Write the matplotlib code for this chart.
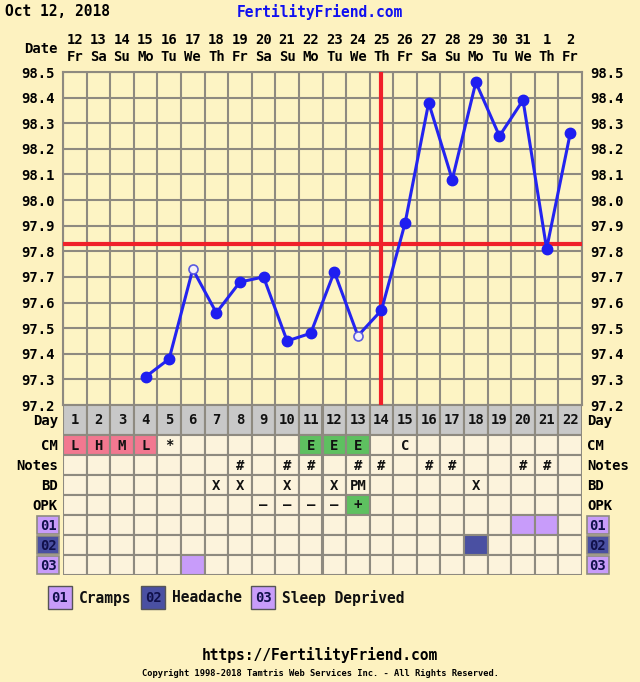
import matplotlib
matplotlib.use('Agg')
import matplotlib.pyplot as plt
from matplotlib.patches import Rectangle
import numpy as np

# --- chart data ---
cycle_days = list(range(1, 23))
dates = [12, 13, 14, 15, 16, 17, 18, 19, 20, 21, 22, 23, 24, 25, 26, 27, 28, 29, 30, 31, 1, 2]
weekdays = ['Fr', 'Sa', 'Su', 'Mo', 'Tu', 'We', 'Th', 'Fr', 'Sa', 'Su', 'Mo',
            'Tu', 'We', 'Th', 'Fr', 'Sa', 'Su', 'Mo', 'Tu', 'We', 'Th', 'Fr']
temps = [np.nan, np.nan, np.nan, 97.31, 97.38, 97.73, 97.56, 97.68, 97.70, 97.45, 97.48,
         97.72, 97.47, 97.57, 97.91, 98.38, 98.08, 98.46, 98.25, 98.39, 97.81, 98.26]
open_days = [6, 13]
coverline = 97.83
ovulation_day = 14
temp_ticks = [97.2, 97.3, 97.4, 97.5, 97.6, 97.7, 97.8, 97.9, 98.0, 98.1, 98.2, 98.3, 98.4, 98.5]

cm = ['L', 'H', 'M', 'L', '*', '', '', '', '', '', 'E', 'E', 'E', '', 'C', '', '', '', '', '', '', '']
notes = ['', '', '', '', '', '', '', '#', '', '#', '#', '', '#', '#', '', '#', '#', '', '', '#', '#', '']
bd = ['', '', '', '', '', '', 'X', 'X', '', 'X', '', 'X', 'PM', '', '', '', '', 'X', '', '', '', '']
opk = ['', '', '', '', '', '', '', '', '–', '–', '–', '–', '+', '', '', '', '', '', '', '', '', '']
symptom_days = {'01': [20, 21], '02': [18], '03': [6]}
symptom_names = {'01': 'Cramps', '02': 'Headache', '03': 'Sleep Deprived'}

# --- styles ---
BG = '#FDF2C0'
PLOT_BG = '#FDF4C4'
CELL_BG = '#FCF3DC'
GRID = '#8E8A80'
PINK = '#F27890'
GREEN = '#5EC060'
SYM_COL = {'01': '#C89CFA', '02': '#4A50A2', '03': '#C89CFA'}
FONT = 'DejaVu Sans Mono'
FS = 10

plt.rcParams['font.family'] = FONT
plt.rcParams['font.weight'] = 'bold'

W, H = 640, 682
fig = plt.figure(figsize=(W / 100, H / 100), dpi=100, facecolor=BG)

def fx(px):
    return px / W

def fy(py):
    return 1 - py / H

# temperature chart
x0, x1 = 63, 582
ax = fig.add_axes([fx(x0), fy(405), fx(x1 - x0), fy(72) - fy(405)])
ax.set_facecolor(PLOT_BG)
ax.set_xlim(0.5, 22.5)
ax.set_ylim(97.2, 98.5)
for x in np.arange(0.5, 23, 1):
    ax.axvline(x, color=GRID, lw=1.5, zorder=1)
for t in temp_ticks:
    ax.axhline(t, color=GRID, lw=1.5, zorder=1)
for s in ax.spines.values():
    s.set_color(GRID)
    s.set_linewidth(1.5)
ax.set_xticks([])
ax.set_yticks(temp_ticks)
ax.set_yticklabels([f'{t:.1f}' for t in temp_ticks], fontsize=FS, fontweight='bold')
ax.tick_params(axis='y', length=0, pad=6, labelright=True)

ax.axhline(coverline, color='#F0202A', lw=3, zorder=3)
ax.axvline(ovulation_day, color='#F0202A', lw=3, zorder=3)

ax.plot(cycle_days, temps, color='#2424F0', lw=2.2, zorder=4)
filled = [t if d not in open_days else np.nan for d, t in zip(cycle_days, temps)]
hollow = [t if d in open_days else np.nan for d, t in zip(cycle_days, temps)]
ax.plot(cycle_days, filled, 'o', color='#1E1EF0', ms=7.5, zorder=5)
ax.plot(cycle_days, hollow, 'o', mfc='#F4F0F8', mec='#5A5AE0', mew=1.2, ms=6.5, zorder=5)

# date header
for d, dt, wd in zip(cycle_days, dates, weekdays):
    ax.annotate(f'{dt}\n{wd}', (d, 1.0), xycoords=('data', 'axes fraction'), xytext=(0, 6),
                textcoords='offset points', ha='center', va='bottom', fontsize=FS,
                fontweight='bold', linespacing=1.2)
fig.text(fx(58), fy(49), 'Date', ha='right', va='center', fontsize=FS, fontweight='bold')

# --- table ---
row_h = [30, 20, 20, 20, 20, 20, 20, 20]
tab = fig.add_axes([fx(x0), fy(575), fx(x1 - x0), fy(405) - fy(575)])
tab.set_xlim(0.5, 22.5)
tab.set_ylim(sum(row_h), 0)
tab.axis('off')
tops = np.cumsum([0] + row_h[:-1])

def cell(d, r, color):
    tab.add_patch(Rectangle((d - 0.5, tops[r]), 1, row_h[r], facecolor=color,
                            edgecolor=GRID, lw=1.5, zorder=1))

def label(d, r, s):
    tab.text(d, tops[r] + row_h[r] / 2 + 0.5, s, ha='center', va='center', fontsize=FS,
             fontweight='bold', color='#111111', zorder=3)

rows = [None, cm, notes, bd, opk]
for d in cycle_days:
    i = d - 1
    cell(d, 0, '#C8C8C8')
    label(d, 0, str(d))
    for r in range(1, 8):
        color = CELL_BG
        if r == 1 and cm[i] in ('L', 'H', 'M'):
            color = PINK
        if r == 1 and cm[i] == 'E':
            color = GREEN
        if r == 4 and opk[i] == '+':
            color = GREEN
        if r >= 5:
            code = f'0{r - 4}'
            if d in symptom_days[code]:
                color = SYM_COL[code]
        cell(d, r, color)
        if r <= 4:
            label(d, r, rows[r][i])

names = ['Day', 'CM', 'Notes', 'BD', 'OPK']
for r, n in enumerate(names):
    yc = tops[r] + row_h[r] / 2 + 0.5
    tab.text(0.28, yc, n, ha='right', va='center', fontsize=FS, fontweight='bold')
    tab.text(22.72, yc, n, ha='left', va='center', fontsize=FS, fontweight='bold')

for k, code in enumerate(['01', '02', '03']):
    r = 5 + k
    for xl in (-0.6, 22.7):
        tab.add_patch(Rectangle((xl, tops[r] + 1), 0.93, row_h[r] - 2, facecolor=SYM_COL[code],
                                edgecolor='#8E8A80', lw=1.2, clip_on=False, zorder=2))
        tab.text(xl + 0.465, tops[r] + row_h[r] / 2 + 0.5, code, ha='center', va='center',
                 fontsize=FS, fontweight='bold', color='#10104A', zorder=3)

# legend
lx = [48, 141, 251]
for code, x in zip(['01', '02', '03'], lx):
    fig.patches.append(Rectangle((fx(x), fy(609)), fx(24), fy(586) - fy(609), facecolor=SYM_COL[code],
                                 edgecolor='#555555', lw=1.0, transform=fig.transFigure))
    fig.text(fx(x + 12), fy(598), code, ha='center', va='center', fontsize=FS,
             fontweight='bold', color='#10104A')
    fig.text(fx(x + 31), fy(598), symptom_names[code], ha='left', va='center',
             fontsize=FS + 0.5, fontweight='bold', color='#111111')

# headers / footers
fig.text(fx(5), fy(12), 'Oct 12, 2018', ha='left', va='center', fontsize=FS + 0.5, fontweight='bold')
fig.text(fx(320), fy(12), 'FertilityFriend.com', ha='center', va='center', fontsize=FS + 0.5,
         fontweight='bold', color='#1010F0')
fig.text(fx(320), fy(655), 'https://FertilityFriend.com', ha='center', va='center',
         fontsize=FS + 0.5, fontweight='bold')
fig.text(fx(320), fy(674), 'Copyright 1998-2018 Tamtris Web Services Inc. - All Rights Reserved.',
         ha='center', va='center', fontsize=6.3, fontweight='bold')

fig.savefig('out.png', dpi=100, facecolor=BG)
